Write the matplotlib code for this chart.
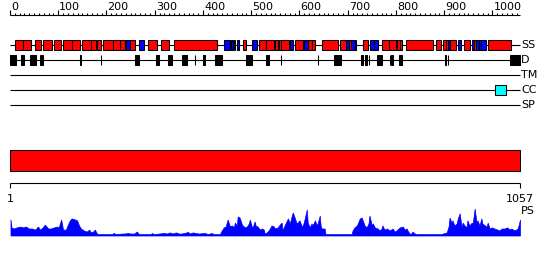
import matplotlib
matplotlib.use("Agg")
import matplotlib.pyplot as plt
from matplotlib.patches import Rectangle

# protein length
seq_len = 1057

# secondary structure: (start, end, type)  H = helix (red), E = strand (blue)
ss_segments = [
    (10, 26, "H"), (26, 43, "H"), (52, 64, "H"), (69, 87, "H"), (92, 105, "H"),
    (110, 128, "H"), (128, 145, "H"), (150, 167, "H"), (167, 178, "H"), (181, 188, "H"),
    (192, 213, "H"), (213, 228, "H"), (228, 238, "H"), (240, 248, "E"), (248, 259, "H"),
    (268, 278, "E"), (286, 305, "H"), (312, 330, "H"), (340, 428, "H"),
    (443, 455, "E"), (457, 462, "E"), (464, 467, "E"), (470, 475, "E"), (482, 490, "H"),
    (502, 511, "E"), (516, 531, "H"), (531, 547, "H"), (549, 556, "H"), (557, 562, "H"),
    (562, 578, "H"), (580, 587, "E"), (591, 607, "H"), (609, 618, "E"), (618, 625, "H"),
    (625, 633, "H"), (646, 680, "H"), (683, 696, "H"), (696, 702, "E"), (702, 706, "H"),
    (706, 714, "E"), (714, 718, "H"), (731, 741, "H"), (747, 754, "E"), (755, 762, "E"),
    (771, 785, "H"), (785, 801, "H"), (803, 808, "H"), (808, 813, "H"), (821, 876, "H"),
    (883, 894, "H"), (897, 903, "H"), (903, 907, "H"), (907, 911, "E"), (911, 925, "H"),
    (928, 935, "E"), (940, 954, "H"), (957, 962, "E"), (962, 966, "H"), (966, 972, "E"),
    (972, 977, "E"), (977, 987, "E"), (990, 1039, "H"),
]

# disorder segments (start, end)
d_segments = [
    (1, 12), (22, 28), (41, 53), (62, 69), (146, 147), (188, 189), (260, 261),
    (262, 268), (302, 308), (327, 335), (356, 366), (383, 384), (399, 404),
    (425, 440), (489, 501), (530, 537), (561, 562), (638, 639), (671, 685),
    (727, 732), (735, 739), (744, 745), (761, 770), (787, 788), (790, 794),
    (806, 813), (902, 903), (907, 908), (1037, 1057),
]

tm_segments = []
cc_segments = [(1006, 1027)]
sp_segments = []

track_names = ["SS", "D", "TM", "CC", "SP"]

# PS profile (residue, score)
ps_pos = [1, 3, 8, 14, 21, 27, 33, 39, 46, 52, 58, 62, 68, 72, 79, 85, 91, 97, 101, 106,
          110, 116, 120, 124, 128, 135, 139, 143, 147, 153, 159, 164, 168, 172, 176, 180,
          184, 211, 215, 219, 232, 238, 244, 250, 257, 263, 267, 292, 294, 298, 319, 325,
          331, 337, 344, 350, 356, 369, 373, 379, 385, 391, 404, 410, 418, 422, 435, 439,
          443, 447, 451, 456, 460, 464, 466, 470, 472, 476, 480, 482, 487, 491, 495, 497,
          501, 503, 507, 509, 513, 518, 522, 526, 528, 532, 536, 540, 542, 547,
          549, 555, 559, 563, 565, 569, 576, 580, 584, 586, 590, 594, 596, 600, 605, 607,
          611, 615, 617, 621, 625, 627, 632, 636, 638, 642, 644, 646, 652, 654, 708, 710,
          714, 719, 725, 729, 731, 735, 739, 743, 745, 750, 752, 756, 762, 766, 770, 772,
          776, 781, 787, 793, 797, 801, 808, 814, 818, 822, 824, 828, 832, 834, 839, 843,
          895, 897, 905, 909, 911, 915, 917, 921, 926, 928, 932, 936, 938, 942, 946, 948,
          952, 957, 959, 963, 967, 969, 973, 977, 979, 984, 988, 990, 994, 998, 1004, 1010,
          1015, 1019, 1025, 1031, 1035, 1039, 1046, 1052, 1054, 1057]
ps_val = [0.57, 0.29, 0.25, 0.29, 0.32, 0.29, 0.32, 0.25, 0.25, 0.21, 0.32, 0.21, 0.29, 0.39,
          0.25, 0.25, 0.29, 0.32, 0.29, 0.57, 0.21, 0.21, 0.39, 0.54, 0.61, 0.57, 0.54, 0.36,
          0.25, 0.18, 0.14, 0.21, 0.11, 0.14, 0.21, 0.07, 0.05, 0.05, 0.09, 0.05, 0.07, 0.07,
          0.09, 0.07, 0.07, 0.14, 0.05, 0.05, 0.09, 0.05, 0.09, 0.07, 0.11, 0.07, 0.11, 0.07,
          0.07, 0.125, 0.07, 0.11, 0.09, 0.07, 0.09, 0.05, 0.09, 0.05, 0.05, 0.18, 0.29, 0.32,
          0.57, 0.32, 0.36, 0.29, 0.46, 0.36, 0.68, 0.64, 0.43, 0.36, 0.29, 0.32, 0.43, 0.57,
          0.32, 0.29, 0.5, 0.36, 0.32, 0.21, 0.25, 0.21, 0.07, 0.11, 0.18, 0.29, 0.36, 0.32,
          0.25, 0.29, 0.39, 0.46, 0.18, 0.36, 0.61, 0.43, 0.71, 0.82, 0.64, 0.43, 0.46, 0.54,
          0.32, 0.36, 0.61, 0.93, 0.46, 0.29, 0.43, 0.36, 0.54, 0.36, 0.46, 0.71, 0.32, 0.25,
          0.25, 0.05, 0.05, 0.18, 0.29, 0.36, 0.61, 0.64, 0.54, 0.36, 0.29, 0.43, 0.71, 0.36,
          0.43, 0.29, 0.25, 0.18, 0.25, 0.36, 0.21, 0.25, 0.18, 0.25, 0.14, 0.18, 0.29, 0.32,
          0.21, 0.25, 0.18, 0.07, 0.07, 0.14, 0.07, 0.05, 0.05, 0.07, 0.11, 0.32, 0.64, 0.46,
          0.54, 0.36, 0.43, 0.61, 0.79, 0.29, 0.46, 0.36, 0.29, 0.54, 0.36, 0.46, 0.43, 0.96,
          0.46, 0.54, 0.36, 0.61, 0.43, 0.36, 0.32, 0.46, 0.25, 0.29, 0.25, 0.21, 0.18, 0.25,
          0.25, 0.29, 0.21, 0.25, 0.18, 0.25, 0.36, 0.57]

# layout in pixel rows (y grows downward)
px_per_res = 510.0 / seq_len
x_left = 10.0
fs = 8

fig = plt.figure(figsize=(5.5, 2.6), dpi=100)
ax = fig.add_axes([0, 0, 1, 1])
ax.set_xlim(-x_left / px_per_res, (550 - x_left) / px_per_res)
ax.set_ylim(260, 0)
ax.axis("off")

# top ruler
ax.hlines(15, 0, seq_len, color="black", lw=0.8)
for v in range(0, seq_len, 10):
    top = 10 if v % 100 == 0 else 12.5
    ax.vlines(v, top, 15, color="black", lw=0.8)
for v in range(0, seq_len, 100):
    ax.text(v + 2, 9.5, str(v), fontsize=fs, ha="left", va="baseline")

# tracks
track_y = {"SS": 45, "D": 60, "TM": 75, "CC": 90, "SP": 105}
box_h = 10


def draw_boxes(segs, y, color_for):
    for seg in segs:
        s, e = seg[0], seg[1]
        c = color_for(seg)
        ax.add_patch(Rectangle((s, y - box_h / 2), e - s, box_h,
                               facecolor=c, edgecolor="black", lw=0.75, zorder=3))


for name in track_names:
    y = track_y[name]
    ax.hlines(y, 0, seq_len, color="black", lw=0.8, zorder=2)
    ax.text(seq_len + 2, y, name, fontsize=fs, ha="left", va="center")

draw_boxes(ss_segments, track_y["SS"], lambda s: "#ff0000" if s[2] == "H" else "#0000ff")
draw_boxes(d_segments, track_y["D"], lambda s: "black")
draw_boxes(tm_segments, track_y["TM"], lambda s: "#ffff00")
draw_boxes(cc_segments, track_y["CC"], lambda s: "#00ffff")
draw_boxes(sp_segments, track_y["SP"], lambda s: "#00ff00")

# domain bar
ax.add_patch(Rectangle((1, 150), seq_len - 1, 21, facecolor="#ff0000",
                       edgecolor="black", lw=0.75, zorder=3))

# bottom ruler
ax.hlines(183, 1, seq_len, color="black", lw=0.8)
ax.vlines([1, seq_len], 183, 188, color="black", lw=0.8)
ax.text(1, 199, "1", fontsize=fs, ha="center", va="center")
ax.text(seq_len, 199, str(seq_len), fontsize=fs, ha="center", va="center")

# PS profile
base = 235.5
scale = 28
ps_top = [base - v * scale for v in ps_val]
ax.fill_between(ps_pos, ps_top, base, color="#0000ff", lw=0.5, zorder=2)
ax.text(seq_len + 2, 211, "PS", fontsize=fs, ha="left", va="center")

fig.savefig("out.png", dpi=100)
